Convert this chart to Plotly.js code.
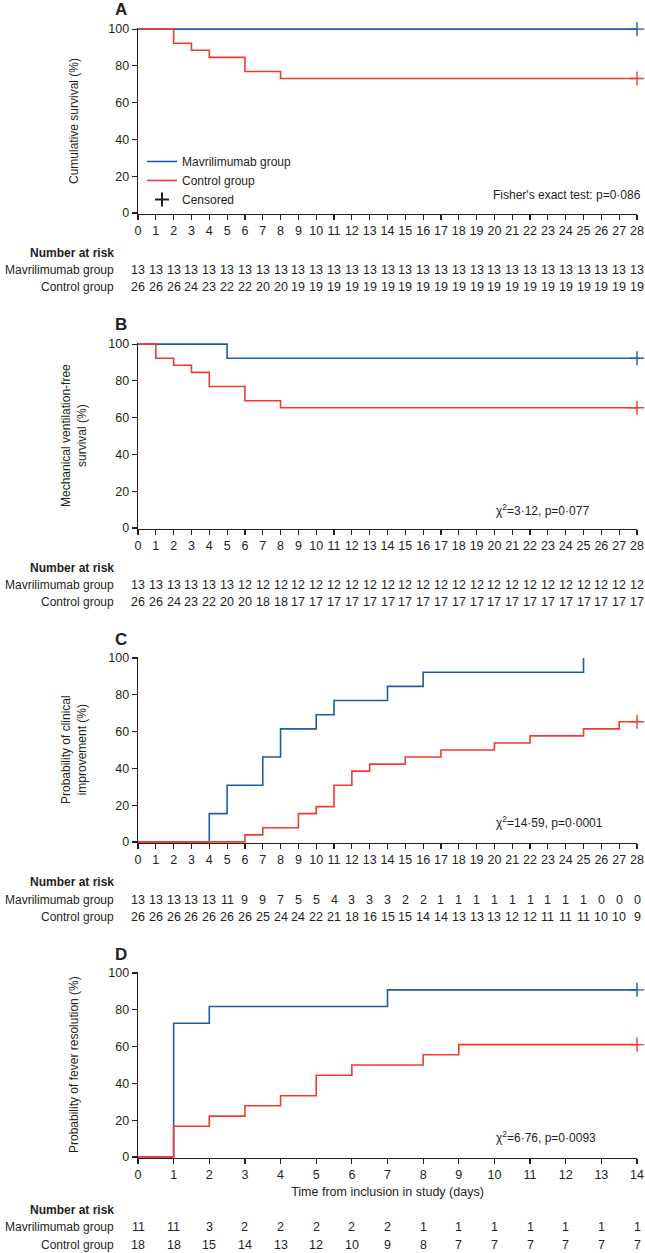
<!DOCTYPE html>
<html><head><meta charset="utf-8">
<script src="https://cdn.plot.ly/plotly-3.0.1.min.js"></script>
<style>html,body{margin:0;padding:0;background:#fff}</style>
</head><body><div id="chart" style="width:645px;height:1253px"></div>
<script>
// ---------- DATA ----------
const panelLetters = ['A', 'B', 'C', 'D'];
const yTitles = ['Cumulative survival (%)', 'Mechanical ventilation-free<br>survival (%)', 'Probability of clinical<br>improvement (%)', 'Probability of fever resolution (%)'];
const groupNames = ['Mavrilimumab group', 'Control group'];
const riskHeader = 'Number at risk';
const yTickVals = [0, 20, 40, 60, 80, 100];
const daysMax = [28, 28, 28, 14];
const statTexts = ["Fisher's exact test: p=0·086", 'χ<sup>2</sup>=3·12, p=0·077', 'χ<sup>2</sup>=14·59, p=0·0001', 'χ<sup>2</sup>=6·76, p=0·0093'];
const xTitleD = 'Time from inclusion in study (days)';

// Panel A: cumulative survival
const aMavT = [0, 28];
const aMavS = [100, 100];
const aCtlT = [0, 2, 3, 4, 6, 8, 28];
const aCtlS = [100, 92.3, 88.5, 84.6, 76.9, 73.1, 73.1];
const aCensMavT = [28], aCensMavS = [100];
const aCensCtlT = [28], aCensCtlS = [73.1];
const aRiskMav = [13,13,13,13,13,13,13,13,13,13,13,13,13,13,13,13,13,13,13,13,13,13,13,13,13,13,13,13,13];
const aRiskCtl = [26,26,26,24,23,22,22,20,20,19,19,19,19,19,19,19,19,19,19,19,19,19,19,19,19,19,19,19,19];

// Panel B: mechanical ventilation-free survival
const bMavT = [0, 5, 28];
const bMavS = [100, 92.3, 92.3];
const bCtlT = [0, 1, 2, 3, 4, 6, 8, 28];
const bCtlS = [100, 92.3, 88.5, 84.6, 76.9, 69.2, 65.4, 65.4];
const bCensMavT = [28], bCensMavS = [92.3];
const bCensCtlT = [28], bCensCtlS = [65.4];
const bRiskMav = [13,13,13,13,13,13,12,12,12,12,12,12,12,12,12,12,12,12,12,12,12,12,12,12,12,12,12,12,12];
const bRiskCtl = [26,26,24,23,22,20,20,18,18,17,17,17,17,17,17,17,17,17,17,17,17,17,17,17,17,17,17,17,17];

// Panel C: clinical improvement
const cMavT = [0, 4, 5, 7, 8, 10, 11, 14, 16, 25];
const cMavS = [0, 15.4, 30.8, 46.2, 61.5, 69.2, 76.9, 84.6, 92.3, 100];
const cCtlT = [0, 6, 7, 9, 10, 11, 12, 13, 15, 17, 20, 22, 25, 27, 28];
const cCtlS = [0, 3.8, 7.7, 15.4, 19.2, 30.8, 38.5, 42.3, 46.2, 50, 53.8, 57.7, 61.5, 65.4, 65.4];
const cCensMavT = [], cCensMavS = [];
const cCensCtlT = [28], cCensCtlS = [65.4];
const cRiskMav = [13,13,13,13,13,11,9,9,7,5,5,4,3,3,3,2,2,1,1,1,1,1,1,1,1,1,0,0,0];
const cRiskCtl = [26,26,26,26,26,26,26,25,24,24,22,21,18,16,15,15,14,14,13,13,13,12,12,11,11,11,10,10,9];

// Panel D: fever resolution
const dMavT = [0, 1, 2, 7, 14];
const dMavS = [0, 72.7, 81.8, 90.9, 90.9];
const dCtlT = [0, 1, 2, 3, 4, 5, 6, 8, 9, 14];
const dCtlS = [0, 16.7, 22.2, 27.8, 33.3, 44.4, 50, 55.6, 61.1, 61.1];
const dCensMavT = [14], dCensMavS = [90.9];
const dCensCtlT = [14], dCensCtlS = [61.1];
const dRiskMav = [11,11,3,2,2,2,2,2,1,1,1,1,1,1,1];
const dRiskCtl = [18,18,15,14,13,12,10,9,8,7,7,7,7,7,7];

// ---------- LAYOUT / STYLE ----------
const W = 645, H = 1253;
const fontFam = 'Liberation Sans, Arial, sans-serif';
const ink = '#231f20';
const blue = '#1f5ca8';
const red = '#f23a30';
const plotLeft = 138, plotRight = 637;
const tops = [28, 343, 657, 972];
const bottoms = [214, 529, 843, 1158];
const riskOffsets = [[39, 56, 73], [39, 56, 73], [39, 57, 74], [52, 69, 87]];
const statY = [10, 10, 11, 11];
const statX = [null, 20, 20, 10];
const py = p => 1 - p / H;
const px = p => p / W;

const panels = [
  {mT: aMavT, mS: aMavS, cT: aCtlT, cS: aCtlS, cmT: aCensMavT, cmS: aCensMavS, ccT: aCensCtlT, ccS: aCensCtlS, rM: aRiskMav, rC: aRiskCtl},
  {mT: bMavT, mS: bMavS, cT: bCtlT, cS: bCtlS, cmT: bCensMavT, cmS: bCensMavS, ccT: bCensCtlT, ccS: bCensCtlS, rM: bRiskMav, rC: bRiskCtl},
  {mT: cMavT, mS: cMavS, cT: cCtlT, cS: cCtlS, cmT: cCensMavT, cmS: cCensMavS, ccT: cCensCtlT, ccS: cCensCtlS, rM: cRiskMav, rC: cRiskCtl},
  {mT: dMavT, mS: dMavS, cT: dCtlT, cS: dCtlS, cmT: dCensMavT, cmS: dCensMavS, ccT: dCensCtlT, ccS: dCensCtlS, rM: dRiskMav, rC: dRiskCtl}
];

const traces = [];
const annotations = [];
const layout = {
  width: W, height: H,
  margin: {l: 0, r: 0, t: 0, b: 0},
  paper_bgcolor: '#ffffff', plot_bgcolor: '#ffffff',
  font: {family: fontFam, color: ink, size: 12},
  showlegend: true,
  legend: {x: px(142), y: py(147), xanchor: 'left', yanchor: 'top', bgcolor: 'rgba(0,0,0,0)',
           font: {size: 12, family: fontFam, color: ink}, tracegroupgap: 0, itemwidth: 30},
  annotations: annotations
};

panels.forEach((p, i) => {
  const n = i + 1;
  const xa = n === 1 ? 'x' : 'x' + n;
  const ya = n === 1 ? 'y' : 'y' + n;
  const xk = n === 1 ? 'xaxis' : 'xaxis' + n;
  const yk = n === 1 ? 'yaxis' : 'yaxis' + n;
  const days = [];
  for (let d = 0; d <= daysMax[i]; d++) days.push(d);

  layout[xk] = {
    domain: [px(plotLeft), px(plotRight)], anchor: ya, range: [0, daysMax[i]],
    tickvals: days, ticks: 'outside', ticklen: 5, tickwidth: 1.2, tickcolor: ink,
    showline: true, linecolor: ink, linewidth: 1.3, showgrid: false, zeroline: false,
    tickfont: {size: 12.5, family: fontFam, color: ink}, fixedrange: true
  };
  if (i === 3) {
    layout[xk].title = {text: xTitleD, font: {size: 12.5, family: fontFam, color: ink}, standoff: 6};
  }
  layout[yk] = {
    domain: [py(bottoms[i]), py(tops[i])], anchor: xa, range: [-0.6, 100.6],
    tickvals: yTickVals, ticks: 'outside', ticklen: 5, tickwidth: 1.2, tickcolor: ink,
    showline: true, linecolor: ink, linewidth: 1.3, showgrid: false, zeroline: false,
    tickfont: {size: 12.5, family: fontFam, color: ink}, fixedrange: true
  };

  traces.push({x: p.mT, y: p.mS, xaxis: xa, yaxis: ya, type: 'scatter', mode: 'lines',
    line: {color: blue, width: 1.6, shape: 'hv'}, name: groupNames[0], showlegend: i === 0, legendrank: 1});
  traces.push({x: p.cT, y: p.cS, xaxis: xa, yaxis: ya, type: 'scatter', mode: 'lines',
    line: {color: red, width: 1.6, shape: 'hv'}, name: groupNames[1], showlegend: i === 0, legendrank: 2});
  if (p.cmT.length) traces.push({x: p.cmT, y: p.cmS, xaxis: xa, yaxis: ya, type: 'scatter', mode: 'markers', cliponaxis: false,
    marker: {symbol: 'cross-thin', size: 10, color: blue, line: {color: blue, width: 1.4}}, showlegend: false, hoverinfo: 'skip'});
  if (p.ccT.length) traces.push({x: p.ccT, y: p.ccS, xaxis: xa, yaxis: ya, type: 'scatter', mode: 'markers', cliponaxis: false,
    marker: {symbol: 'cross-thin', size: 10, color: red, line: {color: red, width: 1.4}}, showlegend: false, hoverinfo: 'skip'});

  annotations.push({text: '<b>' + panelLetters[i] + '</b>', xref: 'paper', yref: 'paper', x: px(121), y: py(tops[i] - 18),
    xanchor: 'center', yanchor: 'middle', showarrow: false, font: {size: 17, family: fontFam, color: ink}});
  annotations.push({text: yTitles[i], xref: 'paper', yref: ya + ' domain', x: px(74), y: 0.5,
    xanchor: 'center', yanchor: 'middle', textangle: -90, showarrow: false, font: {size: 12, family: fontFam, color: ink}});
  if (i === 0) {
    annotations.push({text: statTexts[i], xref: 'paper', yref: ya, x: px(643), y: statY[i], xanchor: 'right', yanchor: 'middle',
      showarrow: false, font: {size: 12, family: fontFam, color: ink}});
  } else {
    annotations.push({text: statTexts[i], xref: xa, yref: ya, x: statX[i], y: statY[i], xanchor: 'left', yanchor: 'middle',
      showarrow: false, font: {size: 12, family: fontFam, color: ink}});
  }
  const off = riskOffsets[i];
  annotations.push({text: '<b>' + riskHeader + '</b>', xref: 'paper', yref: 'paper', x: px(116), y: py(bottoms[i] + off[0]),
    xanchor: 'right', yanchor: 'middle', showarrow: false, font: {size: 12, family: fontFam, color: ink}});
  [p.rM, p.rC].forEach((row, r) => {
    annotations.push({text: groupNames[r], xref: 'paper', yref: 'paper', x: px(116), y: py(bottoms[i] + off[r + 1]),
      xanchor: 'right', yanchor: 'middle', showarrow: false, font: {size: 12, family: fontFam, color: ink}});
    row.forEach((v, d) => {
      annotations.push({text: String(v), xref: xa, yref: 'paper', x: days[d], y: py(bottoms[i] + off[r + 1]),
        xanchor: 'center', yanchor: 'middle', showarrow: false, font: {size: 12.5, family: fontFam, color: ink}});
    });
  });
});

traces.push({x: [null], y: [null], xaxis: 'x', yaxis: 'y', type: 'scatter', mode: 'markers', name: 'Censored',
  marker: {symbol: 'cross-thin', size: 10, color: ink, line: {color: ink, width: 2}}, showlegend: true, legendrank: 3});

Plotly.newPlot('chart', traces, layout, {displayModeBar: false, staticPlot: true});
</script></body></html>
